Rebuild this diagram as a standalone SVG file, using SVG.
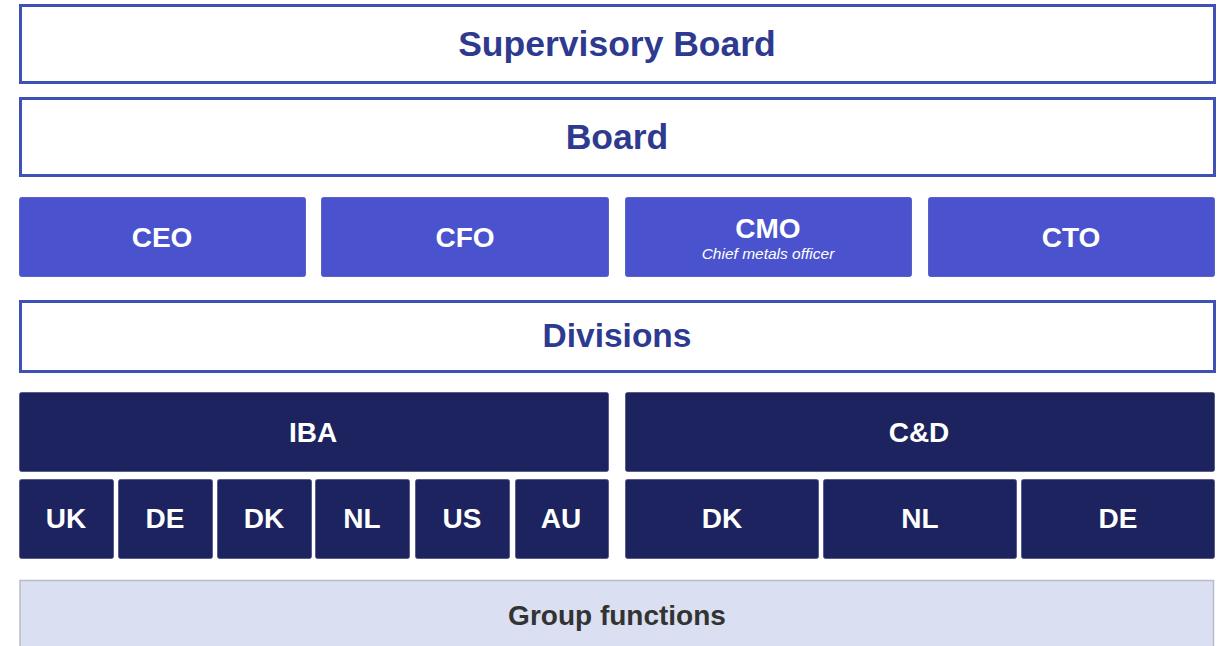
<svg xmlns="http://www.w3.org/2000/svg" width="1225" height="646" viewBox="0 0 1225 646">
  <style>
    text { font-family: "Liberation Sans", Arial, sans-serif; font-weight: bold; text-anchor: middle; }
    .outline { fill: #ffffff; stroke: #3f51b5; stroke-width: 3; }
    .outline-t { fill: #2d3a8f; font-size: 35.5px; }
    .exec { fill: #4a53cd; stroke: #5a62c8; stroke-width: 1; }
    .exec-t { fill: #ffffff; font-size: 28px; }
    .exec-sub { fill: #ffffff; font-size: 15.5px; font-weight: normal; font-style: italic; }
    .div { fill: #1c235e; stroke: #4a5080; stroke-width: 0.8; }
    .div-t { fill: #ffffff; font-size: 28px; }
    .grp { fill: #dae0f2; stroke: #b8bcc8; stroke-width: 1.5; }
    .grp-t { fill: #333333; font-size: 28px; }
  </style>

  <g id="supervisory-board">
    <rect class="outline" x="20.5" y="5.5" width="1194" height="77"/>
    <text class="outline-t" x="617" y="56">Supervisory Board</text>
  </g>
  <g id="board">
    <rect class="outline" x="20.5" y="98.5" width="1194" height="77"/>
    <text class="outline-t" x="617" y="149">Board</text>
  </g>

  <g id="ceo">
    <rect class="exec" x="19.5" y="197.5" width="286" height="79" rx="2"/>
    <text class="exec-t" x="162" y="247">CEO</text>
  </g>
  <g id="cfo">
    <rect class="exec" x="321.5" y="197.5" width="287" height="79" rx="2"/>
    <text class="exec-t" x="465" y="247">CFO</text>
  </g>
  <g id="cmo">
    <rect class="exec" x="625.5" y="197.5" width="286" height="79" rx="2"/>
    <text class="exec-t" x="768" y="238">CMO</text>
    <text class="exec-sub" x="768" y="259">Chief metals officer</text>
  </g>
  <g id="cto">
    <rect class="exec" x="928.5" y="197.5" width="286" height="79" rx="2"/>
    <text class="exec-t" x="1071" y="247">CTO</text>
  </g>

  <g id="divisions">
    <rect class="outline" x="20.5" y="301.5" width="1194" height="70"/>
    <text class="outline-t" x="617" y="347" style="font-size:33.5px">Divisions</text>
  </g>

  <g id="iba">
    <rect class="div" x="19.5" y="392.5" width="589" height="79" rx="2"/>
    <text class="div-t" x="313" y="442">IBA</text>
  </g>
  <g id="iba-uk">
    <rect class="div" x="19.5" y="479.5" width="94" height="79" rx="2"/>
    <text class="div-t" x="66" y="528">UK</text>
  </g>
  <g id="iba-de">
    <rect class="div" x="118.5" y="479.5" width="94" height="79" rx="2"/>
    <text class="div-t" x="165" y="528">DE</text>
  </g>
  <g id="iba-dk">
    <rect class="div" x="217.5" y="479.5" width="94" height="79" rx="2"/>
    <text class="div-t" x="264" y="528">DK</text>
  </g>
  <g id="iba-nl">
    <rect class="div" x="315.5" y="479.5" width="94" height="79" rx="2"/>
    <text class="div-t" x="362" y="528">NL</text>
  </g>
  <g id="iba-us">
    <rect class="div" x="415.5" y="479.5" width="94" height="79" rx="2"/>
    <text class="div-t" x="462" y="528">US</text>
  </g>
  <g id="iba-au">
    <rect class="div" x="515.5" y="479.5" width="93" height="79" rx="2"/>
    <text class="div-t" x="561" y="528">AU</text>
  </g>

  <g id="cd">
    <rect class="div" x="625.5" y="392.5" width="589" height="79" rx="2"/>
    <text class="div-t" x="919" y="442">C&amp;D</text>
  </g>
  <g id="cd-dk">
    <rect class="div" x="625.5" y="479.5" width="193" height="79" rx="2"/>
    <text class="div-t" x="722" y="528">DK</text>
  </g>
  <g id="cd-nl">
    <rect class="div" x="823.5" y="479.5" width="193" height="79" rx="2"/>
    <text class="div-t" x="920" y="528">NL</text>
  </g>
  <g id="cd-de">
    <rect class="div" x="1021.5" y="479.5" width="193" height="79" rx="2"/>
    <text class="div-t" x="1118" y="528">DE</text>
  </g>

  <g id="group-functions">
    <rect class="grp" x="20" y="580.5" width="1193.5" height="70"/>
    <text class="grp-t" x="617" y="625">Group functions</text>
  </g>

  <g id="connectors"/>
</svg>
